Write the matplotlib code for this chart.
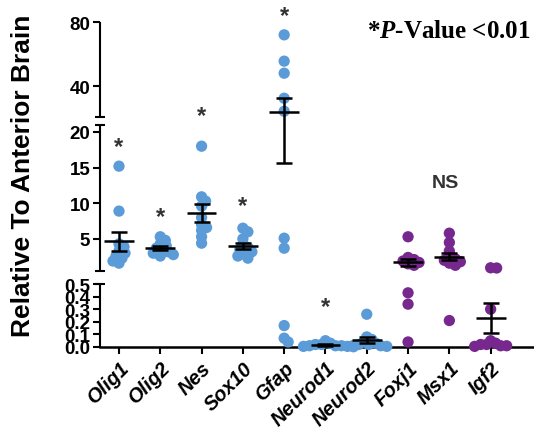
import numpy as np
import matplotlib
matplotlib.use("Agg")
import matplotlib.pyplot as plt

# data (fold change relative to anterior brain)
genes = ["Olig1", "Olig2", "Nes", "Sox10", "Gfap", "Neurod1", "Neurod2", "Foxj1", "Msx1", "Igf2"]
olig1 = [15.2, 8.9, 4.3, 3.9, 3.3, 3.0, 2.6, 2.3, 1.9, 1.6]
olig2 = [5.3, 4.8, 4.3, 4.0, 3.7, 3.4, 3.2, 3.0, 2.8, 2.6]
nes = [18.0, 10.9, 10.3, 9.6, 8.0, 7.0, 6.6, 6.2, 5.3, 4.4]
sox10 = [6.5, 6.0, 5.0, 4.2, 3.8, 3.5, 3.2, 2.9, 2.6, 2.3]
gfap = [72.0, 55.6, 48.1, 32.5, 24.4, 5.1, 3.7, 0.17, 0.07, 0.04]
neurod1 = [0.05, 0.03, 0.02, 0.02, 0.01, 0.01, 0.01, 0.005, 0.005, 0.002]
neurod2 = [0.26, 0.08, 0.06, 0.04, 0.03, 0.02, 0.02, 0.01, 0.01, 0.005]
foxj1 = [5.3, 2.4, 2.1, 1.9, 1.7, 1.5, 1.3, 0.43, 0.34, 0.04]
msx1 = [5.8, 4.5, 3.3, 2.5, 2.2, 2.0, 1.8, 1.6, 1.3, 0.21]
igf2 = [0.95, 0.92, 0.3, 0.05, 0.03, 0.02, 0.02, 0.01, 0.01, 0.005]
values = [olig1, olig2, nes, sox10, gfap, neurod1, neurod2, foxj1, msx1, igf2]

star_genes = ["Olig1", "Olig2", "Nes", "Sox10", "Gfap", "Neurod1"]
star_y = [18.0, 8.2, 21.6, 9.7, 84, 0.32]

yticks = [0, 0.1, 0.2, 0.3, 0.4, 0.5, 5, 10, 15, 20, 40, 80]

BLUE = "#5B9BD8"
PURPLE = "#76288F"

# broken y axis: piecewise linear scale (units = pixels above the x axis)
seg_v = [-1, 0, 0.5, 0.5001, 21, 21.001, 80, 200]
seg_p = [-126, 0, 63, 76, 222.2, 230.3, 325, 517]


def fwd(v):
    return np.interp(v, seg_v, seg_p)


def inv(p):
    return np.interp(p, seg_p, seg_v)


def swarm(vals, px_per_x, dmin=5.5, step=1.0):
    placed = []
    offs = []
    for v in vals:
        y = float(fwd(v))
        found = 0.0
        for k in range(200):
            cands = [0.0] if k == 0 else [k * step, -k * step]
            hit = None
            for c in cands:
                if all((c - a) ** 2 + (y - b) ** 2 >= dmin ** 2 for a, b in placed):
                    hit = c
                    break
            if hit is not None:
                found = hit
                break
        placed.append((found, y))
        offs.append(found / px_per_x)
    return offs


plt.rcParams["font.family"] = ["Liberation Sans", "DejaVu Sans"]
plt.rcParams["mathtext.fontset"] = "custom"
plt.rcParams["mathtext.it"] = "Liberation Serif:italic:bold"
plt.rcParams["mathtext.rm"] = "Liberation Serif:bold"

fig = plt.figure(figsize=(5.34, 4.31), dpi=100)
ax = fig.add_axes([100 / 534, 83 / 431, 434 / 534, 325 / 431])
ax.set_yscale("function", functions=(fwd, inv))
xmin, xmax = -0.46, 10.05
ax.set_xlim(xmin, xmax)
ax.set_ylim(0, 80)
px_per_x = 434 / (xmax - xmin)

for i, (g, vals) in enumerate(zip(genes, values)):
    col = BLUE if i < 7 else PURPLE
    offs = swarm(vals, px_per_x)
    ax.scatter(np.array(offs) + i, vals, s=66, color=col, edgecolors="none",
               zorder=3, clip_on=False)
    m = np.mean(vals)
    sem = np.std(vals, ddof=1) / np.sqrt(len(vals))
    ax.errorbar(i, m, yerr=sem, fmt="none", ecolor="k", elinewidth=1.8,
                capsize=6, capthick=1.8, zorder=4, clip_on=False)
    ax.hlines(m, i - 0.36, i + 0.36, colors="k", lw=1.8, zorder=4)

for g, y in zip(star_genes, star_y):
    ax.text(genes.index(g), y, "*", ha="center", va="center", fontsize=17,
            fontweight="bold", color="#333333", clip_on=False)
ax.text(genes.index("Msx1") - 0.1, 12.9, "NS", ha="center", va="center",
        fontsize=14, fontweight="bold", color="#333333")

# axis styling
for s in ["top", "right", "left"]:
    ax.spines[s].set_visible(False)
ax.spines["bottom"].set_linewidth(1.8)
ytr = ax.get_yaxis_transform()
for lo, hi in [(0, 0.5), (0.5001, 21), (21.001, 80)]:
    ax.plot([0, 0], [lo, hi], color="k", lw=1.5, transform=ytr, clip_on=False,
            solid_capstyle="butt")
ax.plot([0] * 4, [0.5, 0.5001, 21, 21.001], ls="none", marker="_", ms=6.5,
        mew=1.5, color="k", transform=ytr, clip_on=False)

ax.set_yticks(yticks)
ax.set_yticklabels([f"{v:.1f}" if v < 1 else f"{v:g}" for v in yticks])
ax.yaxis.set_minor_locator(matplotlib.ticker.NullLocator())
ax.set_xticks(range(len(genes)))
ax.set_xticklabels(genes, rotation=45, ha="right", rotation_mode="anchor",
                   fontsize=14.5, fontweight="bold", fontstyle="italic")
ax.tick_params(axis="y", direction="out", length=5, width=1.5, labelsize=13.5, pad=2)
ax.tick_params(axis="x", direction="out", length=5, width=1.5, pad=3)
for lab in ax.get_yticklabels():
    lab.set_fontweight("bold")

fig.text(23 / 534, 1 - 176 / 431, "Relative To Anterior Brain", rotation=90,
         ha="center", va="center", fontsize=19, fontweight="bold")
fig.text(531 / 534, 1 - 32 / 431, r"*$\mathit{P}$-Value <0.01", ha="right",
         va="center", fontsize=18, fontweight="bold", family="Liberation Serif")

fig.savefig("out.png", dpi=100)
